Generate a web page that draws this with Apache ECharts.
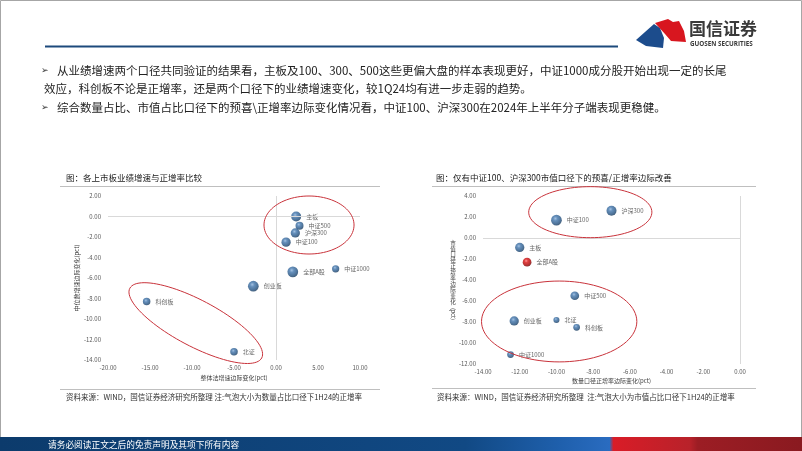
<!DOCTYPE html>
<html><head><meta charset="utf-8">
<script src="https://cdn.jsdelivr.net/npm/echarts@6/dist/echarts.min.js"></script>
<style>html,body{margin:0;padding:0;background:#fff}#c{width:802px;height:451px}</style>
</head><body><div id="c"></div>
<script>
// ---------- data ----------
const leftNames = ['主板','中证500','沪深300','中证100','全部A股','中证1000','创业板','科创板','北证'];
const leftX     = [2.4, 2.8, 2.3, 1.2, 2.0, 7.1, -2.7, -15.4, -5.0];
const leftY     = [0.0, -0.9, -1.6, -2.5, -5.4, -5.1, -6.8, -8.3, -13.2];
const leftRate  = [55, 35, 47, 47, 63, 29, 63, 31, 31];

const rightNames = ['沪深300','中证100','主板','全部A股','中证500','创业板','北证','科创板','中证1000'];
const rightX     = [-7.0, -10.0, -12.0, -11.6, -9.0, -12.3, -10.0, -8.9, -12.5];
const rightY     = [2.6, 1.7, -0.9, -2.3, -5.5, -7.9, -7.8, -8.5, -11.1];
const rightRate  = [55, 63, 47, 42, 42, 47, 20, 25, 25];

const leftXTicks  = {min: -20, max: 10, interval: 5};
const leftYTicks  = {min: -14, max: 2, interval: 2};
const rightXTicks = {min: -14, max: 0, interval: 2};
const rightYTicks = {min: -12, max: 4, interval: 2};

const bullet1a = '从业绩增速两个口径共同验证的结果看，主板及100、300、500这些更偏大盘的样本表现更好，中证1000成分股开始出现一定的长尾';
const bullet1b = '效应，科创板不论是正增率，还是两个口径下的业绩增速变化，较1Q24均有进一步走弱的趋势。';
const bullet2  = '综合数量占比、市值占比口径下的预喜\\正增率边际变化情况看，中证100、沪深300在2024年上半年分子端表现更稳健。';
const leftTitle  = '图：各上市板业绩增速与正增率比较';
const rightTitle = '图：仅有中证100、沪深300市值口径下的预喜/正增率边际改善';
const leftSource  = '资料来源：WIND，国信证券经济研究所整理 注:气泡大小为数量占比口径下1H24的正增率';
const rightSource = '资料来源：WIND，国信证券经济研究所整理  注:气泡大小为市值占比口径下1H24的正增率';
const footerText = '请务必阅读正文之后的免责声明及其项下所有内容';

// ellipse annotations in data units
const leftEllTop   = {x0: -1.43, x1: 9.29, y0: -3.66, y1: 2.0};
const leftEllTilt  = {p1: [-17.4, -7.0], p2: [-1.7, -13.8], ratio: 0.31};
const rightEllTop  = {x0: -11.51, x1: -4.8, y0: 0.03, y1: 4.89};
const rightEllBot  = {x0: -14.08, x1: -5.62, y0: -11.8, y1: -4.1};

// ---------- chart ----------
const FONT = '"Noto Sans CJK SC", "Noto Sans", sans-serif';
const chart = echarts.init(document.getElementById('c'), null, {renderer: 'canvas'});

function blueBall() {
  return new echarts.graphic.RadialGradient(0.4, 0.35, 0.68, [
    {offset: 0, color: '#8db2da'}, {offset: 0.3, color: '#3f74ab'},
    {offset: 0.75, color: '#22507f'}, {offset: 1, color: '#143658'}]);
}
function redBall() {
  return new echarts.graphic.RadialGradient(0.4, 0.35, 0.68, [
    {offset: 0, color: '#ff7a7a'}, {offset: 0.3, color: '#d81010'},
    {offset: 0.75, color: '#a00000'}, {offset: 1, color: '#680000'}]);
}
function buildData(names, xs, ys, rates, redName) {
  return names.map((n, i) => {
    const item = {name: n, value: [xs[i], ys[i], rates[i]]};
    item.itemStyle = {color: n === redName ? redBall() : blueBall()};
    return item;
  });
}
const axisLabel = {fontSize: 6, color: '#595959', fontFamily: FONT, formatter: v => v.toFixed(2)};
function xAx(t, grid, name, gap) {
  return {type: 'value', gridIndex: grid, min: t.min, max: t.max, interval: t.interval,
    axisLine: {show: false}, axisTick: {show: false}, splitLine: {show: false},
    axisLabel: Object.assign({margin: 5}, axisLabel),
    name: name, nameLocation: 'middle', nameGap: gap,
    nameTextStyle: {fontSize: 6, color: '#404040', fontFamily: FONT}};
}
function yAx(t, grid, name, gap) {
  return {type: 'value', gridIndex: grid, min: t.min, max: t.max, interval: t.interval,
    axisLine: {show: false}, axisTick: {show: false}, splitLine: {show: false},
    axisLabel: Object.assign({margin: 7}, axisLabel),
    name: name, nameLocation: 'middle', nameGap: gap, nameRotate: 90,
    nameTextStyle: {fontSize: 6, color: '#404040', fontFamily: FONT}};
}
const zeroLines = {silent: true, symbol: 'none', label: {show: false},
  lineStyle: {color: '#d9d9d9', width: 1, type: 'solid'}, data: [{xAxis: 0}, {yAxis: 0}], animation: false};
const labelCfg = {show: true, position: 'right', distance: 5, formatter: p => p.name,
  fontSize: 6, color: '#404040', fontFamily: FONT};

chart.setOption({
  animation: false,
  grid: [
    {left: 108, right: 442, top: 196, bottom: 91},
    {left: 483, right: 62, top: 196, bottom: 87}
  ],
  xAxis: [xAx(leftXTicks, 0, '整体法增速边际变化(pct)', 15), xAx(rightXTicks, 1, '数量口径正增率边际变化(pct)', 14)],
  yAxis: [yAx(leftYTicks, 0, '中位数增速边际变化(pct)', 27), yAx(rightYTicks, 1, '', 30)],
  series: [
    {type: 'scatter', xAxisIndex: 0, yAxisIndex: 0,
     data: buildData(leftNames, leftX, leftY, leftRate, null),
     symbolSize: v => 1.35 * Math.sqrt(v[2]), label: labelCfg, markLine: zeroLines},
    {type: 'scatter', xAxisIndex: 1, yAxisIndex: 1,
     data: buildData(rightNames, rightX, rightY, rightRate, '全部A股'),
     symbolSize: v => 1.35 * Math.sqrt(v[2]), label: labelCfg, markLine: zeroLines}
  ]
});

// ---------- annotations ----------
function px(grid, p) { return chart.convertToPixel({gridIndex: grid}, p); }
function ellipsePts(cx, cy, a, b, ang) {
  const pts = [];
  for (let i = 0; i < 96; i++) {
    const t = i / 96 * Math.PI * 2;
    const ex = a * Math.cos(t), ey = b * Math.sin(t);
    pts.push([cx + ex * Math.cos(ang) - ey * Math.sin(ang), cy + ex * Math.sin(ang) + ey * Math.cos(ang)]);
  }
  return pts;
}
function boxEllipse(grid, e) {
  const p0 = px(grid, [e.x0, e.y0]), p1 = px(grid, [e.x1, e.y1]);
  return ellipsePts((p0[0] + p1[0]) / 2, (p0[1] + p1[1]) / 2, Math.abs(p1[0] - p0[0]) / 2, Math.abs(p1[1] - p0[1]) / 2, 0);
}
function tiltEllipse(grid, e) {
  const a1 = px(grid, e.p1), a2 = px(grid, e.p2);
  const dx = a2[0] - a1[0], dy = a2[1] - a1[1];
  const a = Math.sqrt(dx * dx + dy * dy) / 2;
  return ellipsePts((a1[0] + a2[0]) / 2, (a1[1] + a2[1]) / 2, a, a * e.ratio, Math.atan2(dy, dx));
}
const ellStyle = {fill: 'none', stroke: '#c8323a', lineWidth: 1};
const ells = [boxEllipse(0, leftEllTop), tiltEllipse(0, leftEllTilt), boxEllipse(1, rightEllTop), boxEllipse(1, rightEllBot)]
  .map(pts => ({type: 'polygon', silent: true, z: 10, shape: {points: pts}, style: ellStyle}));

function txt(x, y, text, size, color, extra) {
  return {type: 'text', x: x, y: y, silent: true, z: 20, rotation: (extra && extra.rotation) || 0,
    style: Object.assign({text: text, fontSize: size, fontFamily: FONT, fill: color,
      textAlign: 'left', textVerticalAlign: 'middle'}, (extra && extra.style) || {})};
}
const stacked = '市值口径正增率边际变化'.split('').join('\n');

const graphics = [
  {type: 'rect', shape: {x: 0.5, y: 0.5, width: 801, height: 450}, style: {fill: 'none', stroke: '#a6a6a6', lineWidth: 1}, silent: true},
  // header line
  {type: 'line', shape: {x1: 45, y1: 46.5, x2: 618, y2: 46.5}, style: {stroke: '#1d4a7c', lineWidth: 2}, silent: true},
  // logo
  {type: 'polygon', shape: {points: [[636, 40], [654, 24], [660, 28], [664, 38], [663, 48], [646, 46]]}, style: {fill: '#1c4c8c'}, silent: true},
  {type: 'polygon', shape: {points: [[655, 23], [668, 19], [673, 22], [679, 21], [684, 31], [686, 42], [671, 41], [665, 34]]}, style: {fill: '#d8161f'}, silent: true},
  txt(689, 29, '国信证券', 17, '#3a3a3a', {style: {fontWeight: 'bold'}}),
  txt(690, 44.5, 'GUOSEN SECURITIES', 6.3, '#3a3a3a', {style: {fontWeight: 'bold', fontFamily: '"Open Sans", sans-serif'}}),
  // bullets
  txt(41, 71, '➢', 9, '#333', {style: {fontFamily: '"DejaVu Sans"'}}),
  txt(57, 71, bullet1a, 11.5, '#222'),
  txt(44, 88.5, bullet1b, 11.5, '#222'),
  txt(41, 108, '➢', 9, '#333', {style: {fontFamily: '"DejaVu Sans"'}}),
  txt(57, 108, bullet2, 11.5, '#222'),
  // chart frames
  txt(66, 178, leftTitle, 8.5, '#1a1a1a'),
  txt(436, 178, rightTitle, 8.5, '#1a1a1a'),
  {type: 'line', shape: {x1: 60, y1: 186.5, x2: 380, y2: 186.5}, style: {stroke: '#bfbfbf', lineWidth: 1}, silent: true},
  {type: 'line', shape: {x1: 432, y1: 186.5, x2: 756, y2: 186.5}, style: {stroke: '#bfbfbf', lineWidth: 1}, silent: true},
  {type: 'line', shape: {x1: 60, y1: 389.5, x2: 380, y2: 389.5}, style: {stroke: '#bfbfbf', lineWidth: 1}, silent: true},
  {type: 'line', shape: {x1: 432, y1: 388.5, x2: 756, y2: 388.5}, style: {stroke: '#bfbfbf', lineWidth: 1}, silent: true},
  txt(66, 397, leftSource, 7.5, '#333'),
  txt(437, 397, rightSource, 7.5, '#333'),
  // right y-axis name (stacked)
  txt(453, 272, stacked, 5.6, '#404040', {style: {textAlign: 'center', lineHeight: 5.9}}),
  txt(453, 314, '(pct)', 5.6, '#404040', {rotation: -Math.PI / 2, style: {textAlign: 'center'}}),
  // footer
  {type: 'rect', shape: {x: 0, y: 437, width: 802, height: 14}, silent: true,
   style: {fill: new echarts.graphic.LinearGradient(0, 0, 1, 0, [
     {offset: 0, color: '#0c3b6c'}, {offset: 0.58, color: '#114984'}, {offset: 0.7, color: '#1f60ad'},
     {offset: 0.76, color: '#2a6cc0'}, {offset: 0.765, color: '#d91c27'}, {offset: 0.86, color: '#b8222a'},
     {offset: 0.87, color: '#9c1d24'}, {offset: 1, color: '#8a1a20'}])}},
  txt(48, 444.5, footerText, 8.7, '#ffffff')
].concat(ells);

chart.setOption({graphic: graphics});
</script></body></html>
